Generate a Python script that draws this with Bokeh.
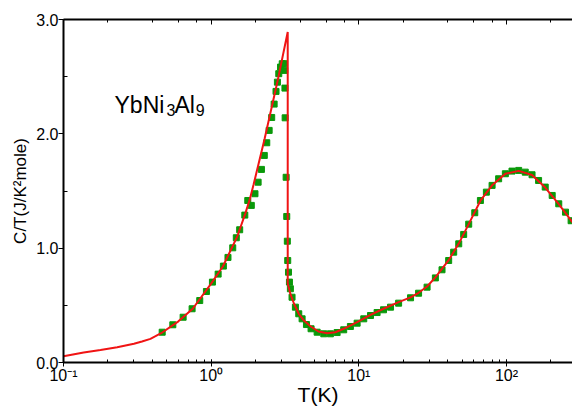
from bokeh.plotting import figure
from bokeh.models import (Range1d, LogAxis, LogTicker, FixedTicker, PrintfTickFormatter,
                          CustomJSTickFormatter, Label)
from bokeh.embed import file_html
from bokeh.resources import INLINE

# ---- data ----
meas_T = [0.466, 0.550, 0.646, 0.743, 0.837, 0.929, 1.02, 1.115, 1.21, 1.30, 1.40, 1.48, 1.56,
          1.69, 1.77, 1.87, 1.98, 2.08, 2.19, 2.29, 2.38, 2.47, 2.57, 2.67, 2.75, 2.81, 2.87,
          2.95, 3.03, 3.14,
          3.15, 3.16, 3.17, 3.22, 3.25, 3.28, 3.30, 3.34, 3.39, 3.44, 3.53, 3.72, 3.92, 4.13,
          4.42, 4.75, 5.22, 5.79, 6.42, 7.13, 7.90, 8.77, 9.74, 10.8, 12.0, 13.3, 14.7, 16.4,
          18.6, 22.4, 25.4, 29.0, 33.0, 36.6, 40.6, 43.9, 47.5, 51.3, 55.5, 61.0, 66.6, 73.1,
          79.9, 88.5, 98.3, 109, 121, 134, 149, 165, 183, 204, 226, 251, 274]
meas_C = [0.265, 0.330, 0.396, 0.470, 0.542, 0.621, 0.703, 0.773, 0.843, 0.919, 1.003, 1.091, 1.161,
          1.289, 1.417, 1.374, 1.476, 1.577, 1.689, 1.811, 1.922, 2.030, 2.143, 2.260, 2.371, 2.452, 2.526,
          2.584, 2.613, 2.613,
          2.555, 2.400, 2.140, 1.620, 1.277, 1.061, 0.892, 0.790, 0.703, 0.645, 0.571, 0.484, 0.426, 0.382,
          0.332, 0.295, 0.265, 0.251, 0.251, 0.262, 0.286, 0.315, 0.344, 0.382, 0.411, 0.437, 0.461, 0.484,
          0.519, 0.566, 0.606, 0.659, 0.740, 0.811, 0.892, 0.965, 1.038, 1.120, 1.210, 1.310, 1.417, 1.490,
          1.549, 1.607, 1.651, 1.674, 1.680, 1.665, 1.642, 1.592, 1.534, 1.461, 1.388, 1.315, 1.240]

fit_T = [0.1, 0.137, 0.178, 0.231, 0.3, 0.34, 0.388, 0.42, 0.466, 0.6, 0.75, 1.0, 1.2, 1.5, 1.7, 1.82,
         1.94, 2.3, 2.8, 3.30,
         3.30, 3.44, 3.64, 3.92, 4.25, 4.72, 5.33, 6.10, 6.93, 7.90, 9.74, 12.0, 14.7, 18.6, 22.4,
         25.4, 29.0, 33.0, 40.6, 47.5, 55.5, 66.6, 79.9, 98.3, 121, 149, 183, 226, 280]
fit_C = [0.055, 0.0875, 0.11, 0.134, 0.164, 0.184, 0.207, 0.23, 0.262, 0.36, 0.47, 0.69, 0.84, 1.10, 1.30,
         1.42, 1.56, 1.954, 2.446, 2.89,
         0.69, 0.60, 0.514, 0.426, 0.367, 0.315, 0.271, 0.256, 0.265, 0.295, 0.353, 0.417, 0.47, 0.528, 0.570,
         0.610, 0.665, 0.745, 0.895, 1.040, 1.210, 1.415, 1.550, 1.650, 1.676, 1.640, 1.530, 1.385, 1.225]

y_ticks = [0.0, 1.0, 2.0, 3.0]
y_minor = [0.5, 1.5, 2.5]

FONT = "Liberation Sans"
GREEN = "#0a990a"
RED = "#f01414"

p = figure(width=572, height=409, x_axis_type="log",
           x_range=Range1d(0.1, 280), y_range=Range1d(0.0, 3.0),
           output_backend="svg", toolbar_location=None,
           min_border_left=63, min_border_right=0, min_border_top=19, min_border_bottom=47)
p.outline_line_color = None
p.xgrid.grid_line_color = None
p.ygrid.grid_line_color = None
p.background_fill_color = "white"
p.border_fill_color = "white"

p.scatter(meas_T, meas_C, marker="square", size=6, fill_color=GREEN, line_color=GREEN)
p.line(fit_T, fit_C, line_color=RED, line_width=2)

sup_js = """
const sup = {"-":"\u207b","0":"\u2070","1":"\u00b9","2":"\u00b2","3":"\u00b3","4":"\u2074",
             "5":"\u2075","6":"\u2076","7":"\u2077","8":"\u2078","9":"\u2079"};
const e = Math.round(Math.log10(tick));
return "10" + String(e).split("").map(c => sup[c]).join("");
"""

xa = p.xaxis[0]
xa.formatter = CustomJSTickFormatter(code=sup_js)
xa.axis_line_width = 2
xa.major_tick_in = 0
xa.major_tick_out = 4
xa.minor_tick_in = 3
xa.minor_tick_out = 0
xa.major_tick_line_width = 1
xa.minor_tick_line_width = 1
xa.major_label_standoff = 0
xa.major_label_text_font = FONT
xa.major_label_text_font_size = "16px"
xa.major_label_text_color = "black"
xa.axis_label = "T(K)"
xa.axis_label_text_font = FONT
xa.axis_label_text_font_size = "21px"
xa.axis_label_text_font_style = "normal"
xa.axis_label_standoff = -4
xa.axis_label_text_color = "black"

ya = p.yaxis[0]
ya.ticker = FixedTicker(ticks=y_ticks, minor_ticks=y_minor)
ya.formatter = PrintfTickFormatter(format="%.1f")
ya.axis_line_width = 2
ya.major_tick_in = 0
ya.major_tick_out = 5
ya.minor_tick_in = 4
ya.minor_tick_out = 0
ya.major_label_standoff = 0
ya.major_label_text_font = FONT
ya.major_label_text_font_size = "16px"
ya.major_label_text_color = "black"
ya.axis_label = "C/T(J/K\u00b2mole)"
ya.axis_label_text_font = FONT
ya.axis_label_text_font_size = "17px"
ya.axis_label_text_font_style = "normal"
ya.axis_label_standoff = 3
ya.axis_label_text_color = "black"

top = LogAxis(ticker=LogTicker())
top.formatter = CustomJSTickFormatter(code="return '';")
top.axis_line_width = 2
top.major_tick_in = 5
top.major_tick_out = 0
top.minor_tick_in = 3
top.minor_tick_out = 0
top.major_label_text_font_size = "2px"
top.major_label_text_alpha = 0
top.major_label_standoff = 0
p.add_layout(top, "above")

pieces = [("YbNi", 0.2215, 2.255, "23px"), ("3", 0.498, 2.209, "16px"),
          ("Al", 0.564, 2.255, "23px"), ("9", 0.785, 2.209, "16px")]
for txt, x, y, fs in pieces:
    p.add_layout(Label(x=x, y=y, text=txt, text_font=FONT, text_font_size=fs,
                       text_align="left", text_baseline="alphabetic", text_color="black"))

open("out.html", "w").write(file_html(p, INLINE))
